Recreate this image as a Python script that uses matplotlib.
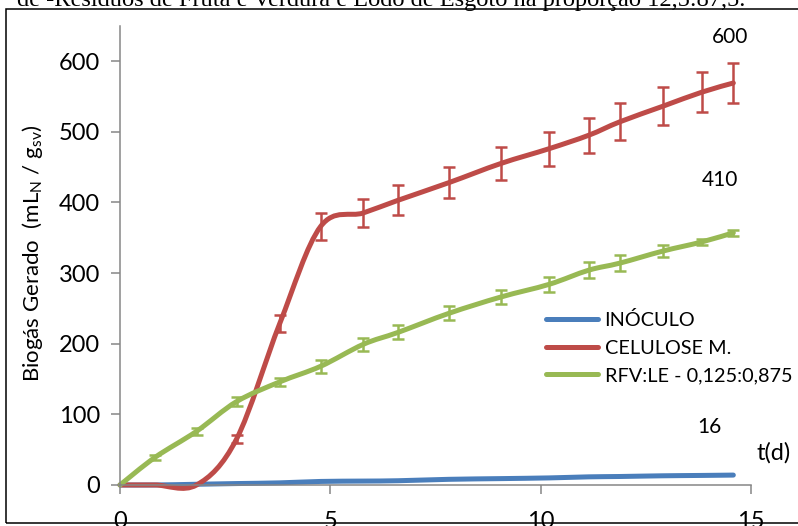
import numpy as np
import matplotlib
matplotlib.use('Agg')
import matplotlib.pyplot as plt
from matplotlib.path import Path
from matplotlib.patches import PathPatch, Rectangle
from matplotlib.lines import Line2D

plt.rcParams['font.family'] = ['Lato', 'DejaVu Sans']
plt.rcParams['mathtext.fontset'] = 'custom'
plt.rcParams['mathtext.rm'] = 'Lato'
plt.rcParams['mathtext.it'] = 'Lato:italic'

# data (days, mL_N / g_sv)
days = [0, 0.83, 1.82, 2.77, 3.8, 4.77, 5.78, 6.61, 7.82, 9.05, 10.2, 11.14, 11.88, 12.9, 13.83, 14.58]
inoculo = [0, 0, 1, 2, 3, 5, 5.5, 6, 8, 9, 10, 11.5, 12, 13, 13.5, 14]
celulose = [0, 0, 0, 65, 229, 366, 385, 403, 428, 455, 476, 495, 514, 536, 556, 569]
celulose_err = [0, 0, 0, 6, 12, 19, 20, 21, 22, 23, 24, 25, 26, 27, 28, 28]
rfv = [0, 39, 76, 118, 146, 168, 199, 216, 243, 266, 284, 304, 314, 331, 344, 357]
rfv_err = [0, 4, 5, 6, 6, 9, 9, 10, 10, 10, 11, 11, 11, 8, 4, 4]

labels = ['INÓCULO', 'CELULOSE M.', 'RFV:LE - 0,125:0,875']
colors = ['#4A7EBB', '#BE4B48', '#98B954']
notes = ['600', '410', '16']
note_x = [14.06, 13.82, 13.73]
note_y = [634, 431, 82]

fig = plt.figure(figsize=(7.98, 5.26), dpi=100)
ax = fig.add_axes([0.1504, 0.078, 0.7907, 0.873])


def smooth_path(x, y):
    # Excel-like smoothed line: cubic Bezier through every point
    pts = np.column_stack([x, y]).astype(float)
    n = len(pts)
    verts = [pts[0]]
    codes = [Path.MOVETO]
    for i in range(n - 1):
        p0 = pts[max(i - 1, 0)]
        p1 = pts[i]
        p2 = pts[i + 1]
        p3 = pts[min(i + 2, n - 1)]
        c1 = p1 + (p2 - p0) / 6.0
        c2 = p2 - (p3 - p1) / 6.0
        verts += [c1, c2, p2]
        codes += [Path.CURVE4] * 3
    return Path(verts, codes)


for ys, c in zip([inoculo, celulose, rfv], colors):
    ax.add_patch(PathPatch(smooth_path(days, ys), fill=False, edgecolor=c,
                           lw=3.6, capstyle='round', joinstyle='round', clip_on=False))

for ys, err, c in [(celulose, celulose_err, colors[1]), (rfv, rfv_err, colors[2])]:
    idx = [i for i, e in enumerate(err) if e > 0]
    ax.errorbar([days[i] for i in idx], [ys[i] for i in idx], yerr=[err[i] for i in idx],
                fmt='none', ecolor=c, elinewidth=1.8, capsize=4, capthick=1.8, zorder=3)

ax.set_xlim(0, 15)
ax.set_ylim(0, 650)
ax.set_xticks([0, 5, 10, 15])
ax.set_yticks(range(0, 601, 100))
for s in ['top', 'right']:
    ax.spines[s].set_visible(False)
for s in ['left', 'bottom']:
    ax.spines[s].set_color('#868686')
    ax.spines[s].set_linewidth(1.1)
ax.tick_params(axis='both', direction='out', length=6.5, width=1.1, color='#868686',
               labelsize=17, labelcolor='black')
ax.tick_params(axis='y', pad=8)
ax.tick_params(axis='x', pad=12)

for t, xx, yy in zip(notes, note_x, note_y):
    ax.text(xx, yy, t, fontsize=15, ha='left', va='center')
ax.text(15.13, 45, 't(d)', fontsize=17, ha='left', va='center', clip_on=False)

handles = [Line2D([], [], color=c, lw=3.6, solid_capstyle='round') for c in colors]
ax.legend(handles, labels, loc='upper left', bbox_to_anchor=(0.675, 0.378),
          frameon=False, fontsize=14.3, handlelength=2.6, handletextpad=0.35,
          labelspacing=0.52, borderpad=0, borderaxespad=0)

fig.text(33 / 798, 1 - 253 / 526, 'Biogás Gerado  (mL$_\\mathrm{N}$ / g$_\\mathrm{sv}$)',
         rotation=90, ha='center', va='center', fontsize=16)

# caption of the document page, cut off at the top
fig.text(745 / 798, 1 - 6 / 526,
         'de -Resíduos de Fruta e Verdura e Lodo de Esgoto na proporção 12,5:87,5.',
         family='Liberation Serif', fontsize=17.6, ha='right', va='baseline')

# page frame around the chart
fig.patches.append(Rectangle((6 / 798, 3 / 526), 1.2, 514 / 526, transform=fig.transFigure,
                             fill=False, edgecolor='black', lw=1.1, zorder=10))

fig.savefig('out.png', dpi=100)
